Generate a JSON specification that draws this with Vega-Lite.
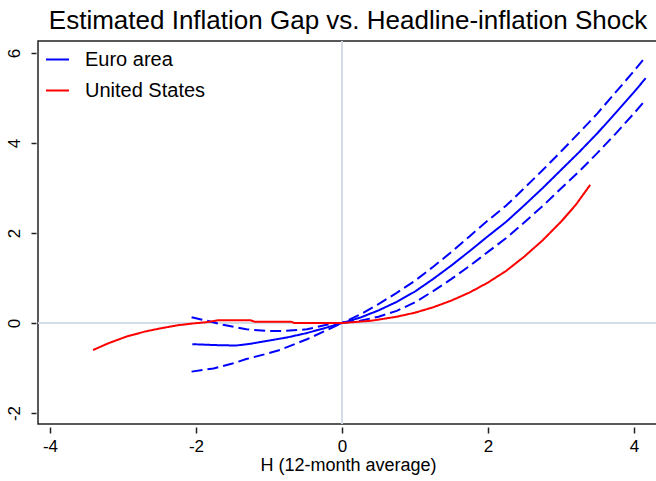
{
  "$schema": "https://vega.github.io/schema/vega-lite/v6.json",
  "width": 620,
  "height": 383,
  "autosize": "none",
  "padding": {"left": 38, "top": 41, "right": 0, "bottom": 57},
  "title": {"text": "Estimated Inflation Gap vs. Headline-inflation Shock", "fontSize": 26, "fontWeight": "normal", "color": "#000000", "anchor": "middle", "frame": "group", "offset": 6},
  "config": {
    "font": "Liberation Sans",
    "view": {"stroke": "#222222", "strokeWidth": 1.5}
  },
  "data": {"values": [
    {"h": -2.05, "g": -0.47, "series": "Euro area", "band": "est"},
    {"h": -1.75, "g": -0.49, "series": "Euro area", "band": "est"},
    {"h": -1.45, "g": -0.50, "series": "Euro area", "band": "est"},
    {"h": -1.25, "g": -0.46, "series": "Euro area", "band": "est"},
    {"h": -1.0, "g": -0.39, "series": "Euro area", "band": "est"},
    {"h": -0.75, "g": -0.32, "series": "Euro area", "band": "est"},
    {"h": -0.5, "g": -0.23, "series": "Euro area", "band": "est"},
    {"h": -0.25, "g": -0.12, "series": "Euro area", "band": "est"},
    {"h": 0, "g": 0, "series": "Euro area", "band": "est"},
    {"h": 0.25, "g": 0.12, "series": "Euro area", "band": "est"},
    {"h": 0.5, "g": 0.28, "series": "Euro area", "band": "est"},
    {"h": 0.75, "g": 0.47, "series": "Euro area", "band": "est"},
    {"h": 1.0, "g": 0.70, "series": "Euro area", "band": "est"},
    {"h": 1.25, "g": 0.98, "series": "Euro area", "band": "est"},
    {"h": 1.5, "g": 1.28, "series": "Euro area", "band": "est"},
    {"h": 1.75, "g": 1.60, "series": "Euro area", "band": "est"},
    {"h": 2.0, "g": 1.93, "series": "Euro area", "band": "est"},
    {"h": 2.25, "g": 2.25, "series": "Euro area", "band": "est"},
    {"h": 2.5, "g": 2.62, "series": "Euro area", "band": "est"},
    {"h": 2.75, "g": 3.00, "series": "Euro area", "band": "est"},
    {"h": 3.0, "g": 3.40, "series": "Euro area", "band": "est"},
    {"h": 3.25, "g": 3.80, "series": "Euro area", "band": "est"},
    {"h": 3.5, "g": 4.22, "series": "Euro area", "band": "est"},
    {"h": 3.75, "g": 4.67, "series": "Euro area", "band": "est"},
    {"h": 4.0, "g": 5.13, "series": "Euro area", "band": "est"},
    {"h": 4.16, "g": 5.44, "series": "Euro area", "band": "est"},

    {"h": -2.06, "g": 0.13, "series": "Euro area", "band": "upper"},
    {"h": -1.85, "g": 0.05, "series": "Euro area", "band": "upper"},
    {"h": -1.63, "g": -0.04, "series": "Euro area", "band": "upper"},
    {"h": -1.31, "g": -0.14, "series": "Euro area", "band": "upper"},
    {"h": -1.0, "g": -0.18, "series": "Euro area", "band": "upper"},
    {"h": -0.85, "g": -0.18, "series": "Euro area", "band": "upper"},
    {"h": -0.48, "g": -0.14, "series": "Euro area", "band": "upper"},
    {"h": -0.21, "g": -0.04, "series": "Euro area", "band": "upper"},
    {"h": 0, "g": 0, "series": "Euro area", "band": "upper"},
    {"h": 0.25, "g": 0.19, "series": "Euro area", "band": "upper"},
    {"h": 0.5, "g": 0.42, "series": "Euro area", "band": "upper"},
    {"h": 0.75, "g": 0.67, "series": "Euro area", "band": "upper"},
    {"h": 1.0, "g": 0.94, "series": "Euro area", "band": "upper"},
    {"h": 1.25, "g": 1.25, "series": "Euro area", "band": "upper"},
    {"h": 1.5, "g": 1.58, "series": "Euro area", "band": "upper"},
    {"h": 1.75, "g": 1.93, "series": "Euro area", "band": "upper"},
    {"h": 2.0, "g": 2.28, "series": "Euro area", "band": "upper"},
    {"h": 2.25, "g": 2.61, "series": "Euro area", "band": "upper"},
    {"h": 2.5, "g": 3.00, "series": "Euro area", "band": "upper"},
    {"h": 2.75, "g": 3.40, "series": "Euro area", "band": "upper"},
    {"h": 3.0, "g": 3.81, "series": "Euro area", "band": "upper"},
    {"h": 3.25, "g": 4.23, "series": "Euro area", "band": "upper"},
    {"h": 3.5, "g": 4.66, "series": "Euro area", "band": "upper"},
    {"h": 3.75, "g": 5.13, "series": "Euro area", "band": "upper"},
    {"h": 4.0, "g": 5.60, "series": "Euro area", "band": "upper"},
    {"h": 4.15, "g": 5.90, "series": "Euro area", "band": "upper"},

    {"h": -2.06, "g": -1.08, "series": "Euro area", "band": "lower"},
    {"h": -1.76, "g": -1.01, "series": "Euro area", "band": "lower"},
    {"h": -1.5, "g": -0.90, "series": "Euro area", "band": "lower"},
    {"h": -1.31, "g": -0.80, "series": "Euro area", "band": "lower"},
    {"h": -1.0, "g": -0.67, "series": "Euro area", "band": "lower"},
    {"h": -0.85, "g": -0.60, "series": "Euro area", "band": "lower"},
    {"h": -0.48, "g": -0.36, "series": "Euro area", "band": "lower"},
    {"h": -0.21, "g": -0.16, "series": "Euro area", "band": "lower"},
    {"h": 0, "g": 0, "series": "Euro area", "band": "lower"},
    {"h": 0.25, "g": 0.05, "series": "Euro area", "band": "lower"},
    {"h": 0.5, "g": 0.14, "series": "Euro area", "band": "lower"},
    {"h": 0.75, "g": 0.27, "series": "Euro area", "band": "lower"},
    {"h": 1.0, "g": 0.46, "series": "Euro area", "band": "lower"},
    {"h": 1.25, "g": 0.71, "series": "Euro area", "band": "lower"},
    {"h": 1.5, "g": 0.98, "series": "Euro area", "band": "lower"},
    {"h": 1.75, "g": 1.27, "series": "Euro area", "band": "lower"},
    {"h": 2.0, "g": 1.58, "series": "Euro area", "band": "lower"},
    {"h": 2.25, "g": 1.89, "series": "Euro area", "band": "lower"},
    {"h": 2.5, "g": 2.24, "series": "Euro area", "band": "lower"},
    {"h": 2.75, "g": 2.60, "series": "Euro area", "band": "lower"},
    {"h": 3.0, "g": 2.99, "series": "Euro area", "band": "lower"},
    {"h": 3.25, "g": 3.37, "series": "Euro area", "band": "lower"},
    {"h": 3.5, "g": 3.78, "series": "Euro area", "band": "lower"},
    {"h": 3.75, "g": 4.21, "series": "Euro area", "band": "lower"},
    {"h": 4.0, "g": 4.66, "series": "Euro area", "band": "lower"},
    {"h": 4.14, "g": 4.92, "series": "Euro area", "band": "lower"},

    {"h": -3.41, "g": -0.60, "series": "United States", "band": "est"},
    {"h": -3.2, "g": -0.45, "series": "United States", "band": "est"},
    {"h": -2.95, "g": -0.30, "series": "United States", "band": "est"},
    {"h": -2.7, "g": -0.19, "series": "United States", "band": "est"},
    {"h": -2.49, "g": -0.12, "series": "United States", "band": "est"},
    {"h": -2.25, "g": -0.05, "series": "United States", "band": "est"},
    {"h": -2.04, "g": -0.01, "series": "United States", "band": "est"},
    {"h": -1.85, "g": 0.02, "series": "United States", "band": "est"},
    {"h": -1.7, "g": 0.06, "series": "United States", "band": "est"},
    {"h": -1.25, "g": 0.06, "series": "United States", "band": "est"},
    {"h": -1.2, "g": 0.03, "series": "United States", "band": "est"},
    {"h": -0.7, "g": 0.03, "series": "United States", "band": "est"},
    {"h": -0.65, "g": 0.0, "series": "United States", "band": "est"},
    {"h": 0, "g": 0, "series": "United States", "band": "est"},
    {"h": 0.4, "g": 0.05, "series": "United States", "band": "est"},
    {"h": 0.75, "g": 0.14, "series": "United States", "band": "est"},
    {"h": 1.0, "g": 0.23, "series": "United States", "band": "est"},
    {"h": 1.25, "g": 0.35, "series": "United States", "band": "est"},
    {"h": 1.5, "g": 0.50, "series": "United States", "band": "est"},
    {"h": 1.75, "g": 0.68, "series": "United States", "band": "est"},
    {"h": 2.0, "g": 0.90, "series": "United States", "band": "est"},
    {"h": 2.25, "g": 1.16, "series": "United States", "band": "est"},
    {"h": 2.5, "g": 1.48, "series": "United States", "band": "est"},
    {"h": 2.75, "g": 1.84, "series": "United States", "band": "est"},
    {"h": 3.0, "g": 2.25, "series": "United States", "band": "est"},
    {"h": 3.2, "g": 2.62, "series": "United States", "band": "est"},
    {"h": 3.4, "g": 3.07, "series": "United States", "band": "est"}
  ]},
  "encoding": {
    "x": {"field": "h", "type": "quantitative",
      "scale": {"domain": [-4.164, 4.329], "nice": false, "zero": false},
      "axis": {"title": "H (12-month average)", "values": [-4, -2, 0, 2, 4], "labelExpr": "'' + datum.value", "grid": false, "domain": false, "offset": 3, "tickSize": 6, "tickColor": "#222222", "tickWidth": 1.5, "labelFontSize": 17, "labelPadding": 5, "labelColor": "#000000", "titleFontSize": 18, "titleFontWeight": "normal", "titleColor": "#000000", "titlePadding": 2}},
    "y": {"field": "g", "type": "quantitative",
      "scale": {"domain": [-2.244, 6.267], "nice": false, "zero": false},
      "axis": {"title": null, "values": [-2, 0, 2, 4, 6], "labelExpr": "'' + datum.value", "grid": false, "domain": false, "offset": 2, "tickSize": 5, "tickColor": "#222222", "tickWidth": 1.5, "labelAngle": -90, "labelAlign": "center", "labelBaseline": "bottom", "labelPadding": 8, "labelFontSize": 17, "labelColor": "#000000"}}
  },
  "layer": [
    {"mark": {"type": "rule", "color": "#d3dde7", "strokeWidth": 1.5}, "encoding": {"x": {"datum": 0}, "y": null}},
    {"mark": {"type": "rule", "color": "#d3dde7", "strokeWidth": 1.5}, "encoding": {"y": {"datum": 0}, "x": null}},
    {"mark": {"type": "line", "strokeWidth": 2},
      "encoding": {
        "color": {"field": "series", "type": "nominal",
          "scale": {"domain": ["Euro area", "United States"], "range": ["#0000ff", "#ff0000"]},
          "legend": {"title": null, "orient": "none", "legendX": 7, "legendY": 6, "symbolType": "stroke", "symbolSize": 529, "symbolStrokeWidth": 2, "labelFontSize": 20, "labelOffset": 15, "rowPadding": 8, "padding": 0, "labelColor": "#000000"}},
        "strokeDash": {"field": "band", "type": "nominal",
          "scale": {"domain": ["est", "upper", "lower"], "range": [[1, 0], [11, 5], [11, 5]]},
          "legend": null}
      }}
  ]
}
